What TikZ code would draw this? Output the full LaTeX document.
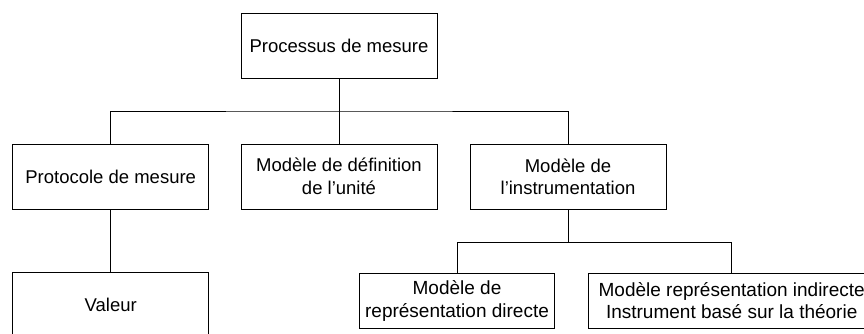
\documentclass[tikz,border=0pt]{standalone}
\usepackage{fontspec}
\setmainfont{Liberation Sans}
\tikzset{
  blk/.style={draw,line width=0.9pt,minimum width=196pt,minimum height=65pt,
    inner sep=0pt,align=center,font=\fontsize{18.5}{22.5}\selectfont},
  lowblk/.style={blk,minimum height=55pt,font=\fontsize{19}{22.5}\selectfont},
  link/.style={line width=0.9pt}
}
\begin{document}
\begin{tikzpicture}[x=1pt,y=-1pt]
\clip (0,0) rectangle (864,334);
% boxes
\node[blk] (proc) at (339,45.8) {Processus de mesure};
\node[blk] (proto) at (110.7,176.5) {Protocole de mesure};
\node[blk] (unite) at (339,176.5) {Modèle de définition\\de l’unité};
\node[blk] (instr) at (568,176.6) {Modèle de\\l’instrumentation};
\node[blk] (val) at (110.7,305.2) {Valeur};
\node[lowblk,minimum width=195pt] (direct) at (457,300.8) {Modèle de\\représentation directe};
\node[lowblk,minimum width=287pt] (indirect) at (731.7,300.8) {Modèle représentation indirecte\\Instrument basé sur la théorie};
% connectors
\coordinate (busA) at (339,111);
\coordinate (busB) at (568,242.7);
\draw[link] (proc) -- (unite);
\draw[link] (proto.north) |- (busA) -| (instr.north);
\draw[link] (proto) -- (val);
\draw[link] (instr) -- (busB);
\draw[link] (direct.north) |- (busB) -| (indirect.north);
\end{tikzpicture}
\end{document}
